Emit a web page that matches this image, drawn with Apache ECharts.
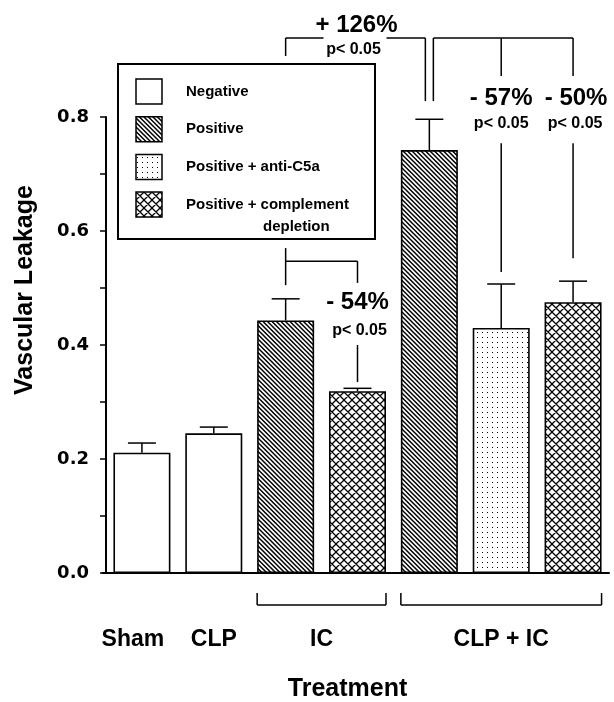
<!DOCTYPE html>
<html>
<head>
<meta charset="utf-8">
<script src="https://cdn.jsdelivr.net/npm/echarts@6/dist/echarts.min.js"></script>
<style>
html,body{margin:0;padding:0;background:#fff;}
#chart{width:614px;height:702px;}
</style>
</head>
<body>
<div id="chart"></div>
<script>
// ---------- data ----------
const categories = ['Sham', 'CLP', 'IC: Positive', 'IC: Positive + complement depletion',
  'CLP + IC: Positive', 'CLP + IC: Positive + anti-C5a', 'CLP + IC: Positive + complement depletion'];
const leakage = [0.211, 0.245, 0.443, 0.319, 0.742, 0.430, 0.475];
const sem = [0.017, 0.011, 0.038, 0.005, 0.054, 0.077, 0.037];
const treatmentType = ['Negative', 'Negative', 'Positive', 'Positive + complement depletion',
  'Positive', 'Positive + anti-C5a', 'Positive + complement depletion'];
const legendNames = ['Negative', 'Positive', 'Positive + anti-C5a', 'Positive + complement depletion'];
const groupLabels = ['Sham', 'CLP', 'IC', 'CLP + IC'];
const groupStart = [0, 1, 2, 4];
const groupEnd = [0, 1, 3, 6];
const yTickValues = [0, 0.2, 0.4, 0.6, 0.8];
const compLabels = ['+ 126%', '- 54%', '- 57%', '- 50%'];
const compP = ['p< 0.05', 'p< 0.05', 'p< 0.05', 'p< 0.05'];
const compFrom = [2, 2, 4, 4];
const compTo = [4, 3, 5, 6];
const yTitle = 'Vascular Leakage';
const xTitle = 'Treatment';

// ---------- patterns ----------
function tile(size, draw) {
  const c = document.createElement('canvas');
  c.width = size; c.height = size;
  const ctx = c.getContext('2d');
  ctx.fillStyle = '#fff'; ctx.fillRect(0, 0, size, size);
  draw(ctx, size);
  return c;
}
const diagCanvas = tile(9, (ctx, s) => {
  ctx.strokeStyle = '#000'; ctx.lineWidth = 1.5; ctx.beginPath();
  for (let k = -3; k <= 3; k++) {
    const o = k * 4.5;
    ctx.moveTo(o - 3, -3); ctx.lineTo(o + s + 3, s + 3);
  }
  ctx.stroke();
});
const dotCanvas = tile(5, (ctx) => {
  ctx.fillStyle = '#000'; ctx.fillRect(2, 2, 1, 1);
});
const crossCanvas = tile(8, (ctx, s) => {
  ctx.strokeStyle = '#000'; ctx.lineWidth = 1.3; ctx.beginPath();
  for (let k = -2; k <= 2; k++) {
    const o = k * s;
    ctx.moveTo(o - 2, -2); ctx.lineTo(o + s + 2, s + 2);
    ctx.moveTo(o + s + 2, -2); ctx.lineTo(o - 2, s + 2);
  }
  ctx.stroke();
});
const fills = {
  'Negative': '#ffffff',
  'Positive': { image: diagCanvas, repeat: 'repeat' },
  'Positive + anti-C5a': { image: dotCanvas, repeat: 'repeat' },
  'Positive + complement depletion': { image: crossCanvas, repeat: 'repeat' }
};

const FONT = 'Liberation Sans';
const BAR_W = 57;

const barSeries = legendNames.map(name => ({
  name: name,
  type: 'bar',
  barWidth: BAR_W,
  barGap: '-100%',
  data: leakage.map((v, i) => treatmentType[i] === name ? v : '-'),
  itemStyle: { color: fills[name], borderColor: '#000', borderWidth: 1.6 },
  emphasis: { disabled: true },
  z: 2
}));

const errorSeries = {
  type: 'custom',
  name: 'SEM',
  z: 4,
  encode: { x: 0, y: 1 },
  data: leakage.map((v, i) => [i, v, sem[i]]),
  renderItem: function (params, api) {
    const i = api.value(0), v = api.value(1), e = api.value(2);
    const p0 = api.coord([i, v]);
    const p1 = api.coord([i, v + e]);
    const st = { stroke: '#000', lineWidth: 1.5 };
    return {
      type: 'group',
      children: [
        { type: 'line', shape: { x1: p0[0], y1: p0[1], x2: p1[0], y2: p1[1] }, style: st },
        { type: 'line', shape: { x1: p1[0] - 14, y1: p1[1], x2: p1[0] + 14, y2: p1[1] }, style: st }
      ]
    };
  }
};

const chart = echarts.init(document.getElementById('chart'), null, { renderer: 'canvas' });
chart.setOption({
  animation: false,
  backgroundColor: '#fff',
  grid: { left: 106, right: 5, top: 117, bottom: 129 },
  xAxis: {
    type: 'category',
    data: categories,
    axisLine: { lineStyle: { color: '#000', width: 2 } },
    axisTick: { alignWithLabel: true, length: 6, lineStyle: { color: '#000', width: 1.5 } },
    axisLabel: { show: false }
  },
  yAxis: {
    type: 'value',
    min: 0, max: 0.8, interval: 0.2,
    axisLine: { show: true, lineStyle: { color: '#000', width: 2 } },
    axisTick: { show: true, length: 6, lineStyle: { color: '#000', width: 1.5 } },
    minorTick: { show: true, splitNumber: 2, length: 6, lineStyle: { color: '#000', width: 1.5 } },
    splitLine: { show: false },
    axisLabel: {
      margin: 17, color: '#000', fontFamily: 'DejaVu Sans', fontWeight: 'bold', fontSize: 18,
      formatter: v => (yTickValues.some(t => Math.abs(t - v) < 1e-9) ? v.toFixed(1) : '')
    }
  },
  series: barSeries.concat([errorSeries])
});

// ---------- annotations (positions through the chart's own scales) ----------
function px(i, v) { return chart.convertToPixel({ gridIndex: 0 }, [i, v]); }
const g = [];
const LS = { stroke: '#000', lineWidth: 1.5 };
function line(x1, y1, x2, y2, w) {
  g.push({ type: 'line', silent: true, shape: { x1, y1, x2, y2 },
    style: { stroke: '#000', lineWidth: w || 1.5 }, z: 10 });
}
function text(x, y, str, size, opts) {
  g.push(Object.assign({
    type: 'text', silent: true, x, y, z: 10,
    style: { text: str, fontFamily: FONT, fontWeight: 'bold', fontSize: size, fill: '#000',
      align: 'center', verticalAlign: 'middle' }
  }, opts || {}));
}
const X = i => px(i, 0)[0];
const Y = v => px(0, v)[1];
const y0 = Y(0);

// small extension of the x axis line to the left of the y axis
line(X(0) - 40, y0, X(0) - 35, y0, 2);

// comparison 0: + 126%  (IC positive vs CLP + IC positive)
(function () {
  const xa = X(compFrom[0]), xb = X(compTo[0]) - 4;
  const yl = Y(0.9386), mid = (xa + xb) / 2;
  line(xa, yl, xa, Y(0.907));
  line(xa, yl, mid - 32, yl);
  line(mid + 31, yl, xb, yl);
  line(xb, yl, xb, Y(0.828));
  text(mid + 1, Y(0.961), compLabels[0], 24);
  text(mid - 2, Y(0.919), compP[0], 16);
})();
// comparisons 2,3: CLP + IC positive vs anti-C5a / complement depletion
(function () {
  const xs = X(compFrom[2]) + 4, xe = X(compTo[3]);
  const yl = Y(0.9386);
  line(xs, yl, xs, Y(0.828));
  line(xs, yl, xe, yl);
  [2, 3].forEach(k => {
    const xt = X(compTo[k]);
    line(xt, yl, xt, Y(0.872));
    text(xt + (k === 3 ? 3 : 0), Y(0.833), compLabels[k], 24);
    text(xt + (k === 3 ? 2 : 0), Y(0.788), compP[k], 16);
    line(xt, Y(0.754), xt, Y(sem[compTo[k]] + leakage[compTo[k]] + (k === 3 ? 0.04 : 0.021)));
  });
})();
// comparison 1: - 54% (IC positive vs IC complement depletion)
(function () {
  const xa = X(compFrom[1]), xb = X(compTo[1]);
  line(xa, Y(0.570), xa, Y(0.505));
  line(xa, Y(0.547), xb, Y(0.547));
  line(xb, Y(0.547), xb, Y(0.509));
  text(xb, Y(0.474), compLabels[1], 24);
  text(xb + 2, Y(0.426), compP[1], 16);
  line(xb, Y(0.400), xb, Y(0.335));
})();

// group brackets and labels under the axis
groupLabels.forEach((lab, k) => {
  const a = X(groupStart[k]), b = X(groupEnd[k]);
  if (groupEnd[k] > groupStart[k]) {
    const l = a - BAR_W / 2, r = b + BAR_W / 2;
    line(l, y0 + 20, l, y0 + 32);
    line(l, y0 + 32, r, y0 + 32);
    line(r, y0 + 20, r, y0 + 32);
  }
  text((a + b) / 2 - 9 * (k === 0 ? 1 : 0), y0 + 67, lab, 23);
});
text((X(0) + X(6)) / 2 - 10, y0 + 116, xTitle, 25);
text(25, 290, yTitle, 25, { rotation: Math.PI / 2 });

// legend box
const LX = 118, LY = 64;
g.push({ type: 'rect', silent: true, z: 8, shape: { x: LX, y: LY, width: 257, height: 175 },
  style: { fill: '#fff', stroke: '#000', lineWidth: 2 } });
function ltext(x, y, str) {
  text(x, y, str, 15, { style: { text: str, fontFamily: FONT, fontWeight: 'bold', fontSize: 15,
    fill: '#000', align: 'left', verticalAlign: 'middle' } });
}
legendNames.forEach((name, k) => {
  const sy = LY + 15 + k * 37.7;
  g.push({ type: 'rect', silent: true, z: 9, shape: { x: LX + 18, y: sy, width: 26, height: 25 },
    style: { fill: fills[name], stroke: '#000', lineWidth: 1.5 } });
  const ty = sy + 12.5;
  if (k === legendNames.length - 1) {
    const cut = name.lastIndexOf(' ');
    ltext(LX + 68, ty, name.slice(0, cut));
    ltext(LX + 145, ty + 22, name.slice(cut + 1));
  } else {
    ltext(LX + 68, ty, name);
  }
});

chart.setOption({ graphic: g });
</script>
</body>
</html>
